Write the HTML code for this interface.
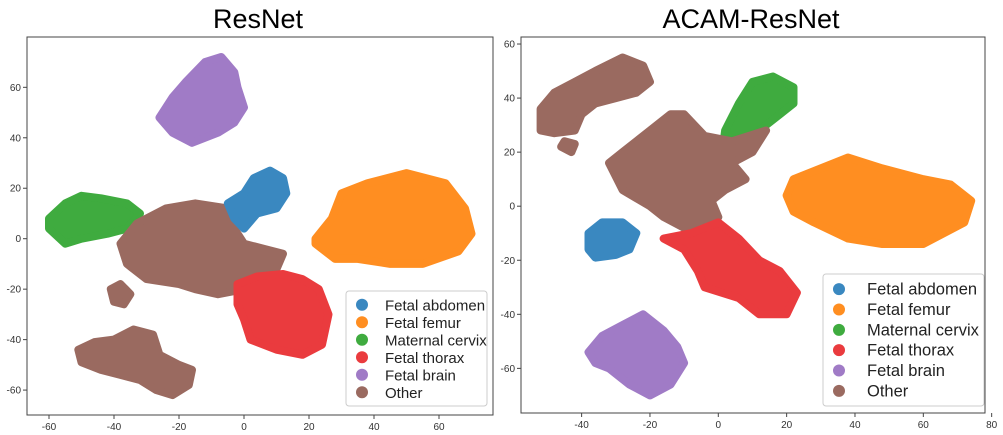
<!DOCTYPE html>
<html><head><meta charset="utf-8"><style>
body{margin:0;background:#fff;width:1003px;height:430px;overflow:hidden;font-family:"Liberation Sans",sans-serif}
</style></head><body>
<svg id="s" width="1003" height="430" xmlns="http://www.w3.org/2000/svg">
<text x="258" y="28" font-size="27" text-anchor="middle" font-family="Liberation Sans, sans-serif">ResNet</text>
<text x="751" y="28" font-size="27" text-anchor="middle" font-family="Liberation Sans, sans-serif">ACAM-ResNet</text>
</svg>
<script>
const classNames=["Fetal abdomen","Fetal femur","Maternal cervix","Fetal thorax","Fetal brain","Other"];
const classColors=["#3a88c0","#ff8e21","#3fab3f","#ea3b3e","#a07bc6","#9a6a60"];
// Left (ResNet) cluster outlines
const leftBrain=[[-26,48],[-22,56],[-18,62],[-12,70],[-7,72],[-3,66],[-2,60],[0,52],[-3,46],[-8,42],[-16,38],[-22,42]];
const leftAbdomen=[[-5,14],[0,18],[3,24],[8,27],[12,24],[13,18],[10,12],[4,10],[0,4],[-3,8]];
const leftFemur=[[22,0],[27,8],[30,18],[38,22],[50,26],[62,22],[68,12],[70,2],[66,-5],[55,-10],[45,-10],[35,-8],[28,-8],[22,-2]];
const leftCervix=[[-60,8],[-55,14],[-50,17],[-44,16],[-36,14],[-32,10],[-36,4],[-42,2],[-50,0],[-55,-2],[-60,4]];
const leftOtherMain=[[-36,-10],[-38,-2],[-33,6],[-24,12],[-15,14],[-5,12],[-3,4],[0,-2],[6,-4],[12,-6],[10,-12],[4,-14],[0,-20],[-8,-22],[-15,-20],[-20,-18],[-30,-16]];
const leftThorax=[[-2,-18],[4,-15],[12,-14],[18,-16],[23,-20],[26,-30],[24,-42],[18,-46],[10,-44],[2,-40],[0,-32],[-2,-26]];
const leftOtherSmall=[[-41,-20],[-38,-18],[-35,-22],[-37,-26],[-40,-25]];
const leftOtherBottom=[[-51,-44],[-46,-41],[-40,-40],[-34,-36],[-28,-38],[-26,-46],[-20,-50],[-16,-52],[-17,-58],[-22,-62],[-27,-60],[-32,-56],[-38,-54],[-44,-52],[-50,-49]];
// Right (ACAM-ResNet)
const rightOtherTop=[[-52,28],[-52,36],[-48,42],[-42,46],[-36,50],[-28,55],[-22,52],[-20,46],[-24,42],[-30,40],[-36,38],[-40,34],[-42,28],[-48,27]];
const rightOtherSmall=[[-46,22],[-43,20],[-42,23],[-45,24]];
const rightCervix=[[2,28],[6,38],[10,46],[16,48],[22,44],[22,38],[18,34],[14,30],[10,26],[4,22],[1,18]];
const rightOtherMain=[[-32,16],[-28,20],[-20,28],[-14,34],[-10,34],[-4,26],[4,24],[14,28],[10,20],[4,16],[8,10],[2,6],[-2,2],[0,-4],[-4,-8],[-10,-8],[-16,-4],[-20,0],[-28,6]];
const rightFemur=[[20,4],[22,10],[30,14],[38,18],[48,14],[60,10],[68,8],[74,2],[72,-6],[60,-14],[48,-14],[38,-12],[28,-6],[22,-2]];
const rightAbdomen=[[-38,-10],[-34,-6],[-28,-6],[-24,-10],[-26,-16],[-30,-18],[-36,-19],[-38,-16]];
const rightThorax=[[-16,-12],[-8,-10],[0,-6],[6,-12],[12,-20],[18,-24],[23,-32],[20,-40],[12,-40],[6,-34],[-4,-30],[-6,-24],[-10,-16]];
const rightBrain=[[-38,-54],[-34,-48],[-28,-44],[-22,-40],[-16,-46],[-12,-52],[-10,-58],[-14,-66],[-20,-70],[-26,-66],[-32,-60],[-36,-58]];
const leftXTicks=[-60,-40,-20,0,20,40,60];
const leftYTicks=[-60,-40,-20,0,20,40,60];
const rightXTicks=[-40,-20,0,20,40,60,80];
const rightYTicks=[-60,-40,-20,0,20,40,60];

const NS="http://www.w3.org/2000/svg",svg=document.getElementById('s');
function mk(t,a,p){const e=document.createElementNS(NS,t);for(const k in a)e.setAttribute(k,a[k]);(p||svg).appendChild(e);return e;}
function panel(cfg){
  const g=mk('g',{});
  
  
  const X=v=>cfg.x0+v*cfg.kx, Y=v=>cfg.y0-v*cfg.ky;
  cfg.clusters.forEach(([c,pts])=>{
    const d=pts.map((p,i)=>(i?'L':'M')+X(p[0]).toFixed(1)+','+Y(p[1]).toFixed(1)).join('')+'Z';
    const path=mk('path',{d:d,fill:classColors[c],stroke:classColors[c],'stroke-width':8,'stroke-linejoin':'round'},g);
    
    
  });
  const fr=mk('rect',{x:cfg.L,y:cfg.T,width:cfg.R-cfg.L,height:cfg.B-cfg.T,fill:'none',stroke:'#444','stroke-width':1},g);
  
  
  cfg.xt.forEach(v=>{mk('line',{x1:X(v),x2:X(v),y1:cfg.B,y2:cfg.B+4,stroke:'#444'},g);
    const t=mk('text',{x:X(v),y:cfg.B+15,'font-size':10,'text-anchor':'middle',fill:'#333'},g);t.textContent=v;
    
    });
  cfg.yt.forEach(v=>{mk('line',{x1:cfg.L-4,x2:cfg.L,y1:Y(v),y2:Y(v),stroke:'#444'},g);
    const t=mk('text',{x:cfg.L-6,y:Y(v)+3.5,'font-size':10,'text-anchor':'end',fill:'#333'},g);t.textContent=v;
    
    });
  const lg=mk('g',{},g);
  
  
  mk('rect',{x:cfg.lx,y:cfg.ly,width:cfg.lw,height:cfg.lh,fill:'#fff','fill-opacity':0.9,stroke:'#ccc',rx:3},lg);
  const step=(cfg.lh-10)/6;
  classNames.forEach((n,i)=>{const cy=cfg.ly+5+step*(i+0.5);
    mk('circle',{cx:cfg.lx+16,cy:cy,r:6,fill:classColors[i]},lg);
    const t=mk('text',{x:cfg.lx+cfg.tx,y:cy+5.5,'font-size':cfg.fs,fill:'#222'},lg);t.textContent=n;
    
    });
}
panel({name:'resnet-panel',x0:244,kx:3.25,y0:238.7,ky:2.523,L:27,R:493,T:37,B:415,xt:leftXTicks,yt:leftYTicks,
 lx:346,ly:291,lw:141,lh:115,tx:39,fs:15,
 clusters:[[4,leftBrain],[1,leftFemur],[2,leftCervix],[5,leftOtherMain],[0,leftAbdomen],[3,leftThorax],[5,leftOtherSmall],[5,leftOtherBottom]]});
panel({name:'acam-resnet-panel',x0:718.3,kx:3.417,y0:206.2,ky:2.703,L:521,R:985,T:37,B:413,xt:rightXTicks,yt:rightYTicks,
 lx:823,ly:274,lw:161,lh:132,tx:44,fs:16.5,
 clusters:[[5,rightOtherTop],[5,rightOtherSmall],[2,rightCervix],[5,rightOtherMain],[1,rightFemur],[0,rightAbdomen],[3,rightThorax],[4,rightBrain]]});
</script>
</body></html>
